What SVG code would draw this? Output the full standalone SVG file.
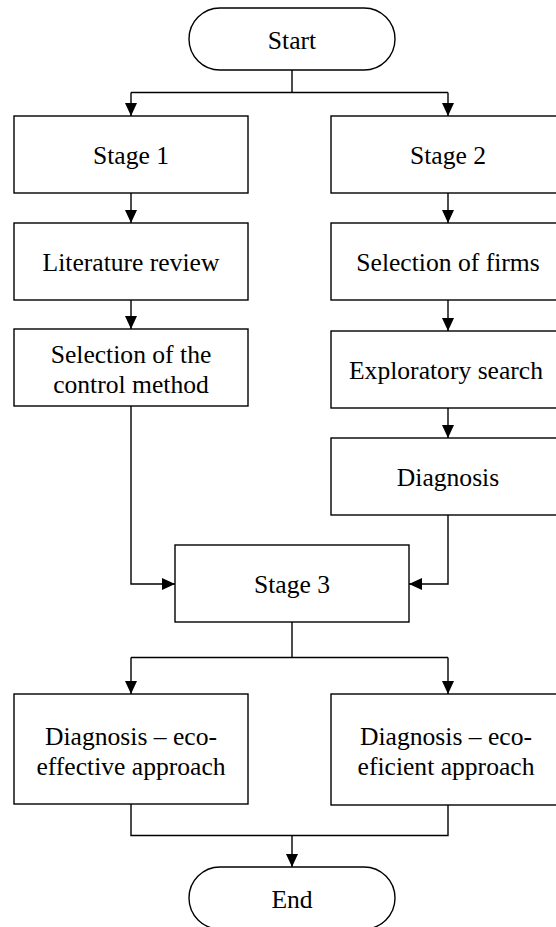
<svg xmlns="http://www.w3.org/2000/svg" width="556" height="927" viewBox="0 0 556 927">
<style>
.box{fill:#fff;stroke:#000;stroke-width:1.4}
.t{font-family:"Liberation Serif","Times New Roman",serif;font-size:25.6px;fill:#000;text-anchor:middle}
.c{fill:none;stroke:#000;stroke-width:1.4}
</style>
<defs>
<marker id="ah" markerUnits="userSpaceOnUse" markerWidth="13" markerHeight="12" refX="13" refY="6" orient="auto">
<path d="M0,0 L13,6 L0,12 z" fill="#000"/>
</marker>
</defs>
<rect width="556" height="927" fill="#fff"/>
<g id="connectors">
<path class="c" d="M292,70 V92.5 M131,92.5 H448"/>
<path class="c" d="M131,92.5 V116" marker-end="url(#ah)"/>
<path class="c" d="M448,92.5 V116" marker-end="url(#ah)"/>
<path class="c" d="M131,193 V223" marker-end="url(#ah)"/>
<path class="c" d="M131,300 V329" marker-end="url(#ah)"/>
<path class="c" d="M448,193 V223" marker-end="url(#ah)"/>
<path class="c" d="M448,300 V331" marker-end="url(#ah)"/>
<path class="c" d="M448,408 V438" marker-end="url(#ah)"/>
<path class="c" d="M131,406 V584 H175" marker-end="url(#ah)"/>
<path class="c" d="M448,515 V584 H409" marker-end="url(#ah)"/>
<path class="c" d="M292,622 V657.5 M131,657.5 H448"/>
<path class="c" d="M131,657.5 V694" marker-end="url(#ah)"/>
<path class="c" d="M448,657.5 V694" marker-end="url(#ah)"/>
<path class="c" d="M131,804 V835.5 H448 V805"/>
<path class="c" d="M292,835.5 V867" marker-end="url(#ah)"/>
</g>
<g id="start">
<rect class="box" x="189" y="8" width="206" height="62" rx="31" ry="31"/>
<text class="t" x="292" y="48.5">Start</text>
</g>
<g id="stage1">
<rect class="box" x="14" y="116" width="234" height="77"/>
<text class="t" x="131" y="164">Stage 1</text>
</g>
<g id="stage2">
<rect class="box" x="331" y="116" width="234" height="77"/>
<text class="t" x="448" y="164">Stage 2</text>
</g>
<g id="literature">
<rect class="box" x="14" y="223" width="234" height="77"/>
<text class="t" x="131" y="271">Literature review</text>
</g>
<g id="firms">
<rect class="box" x="331" y="223" width="234" height="77"/>
<text class="t" x="448" y="271">Selection of firms</text>
</g>
<g id="control">
<rect class="box" x="14" y="329" width="234" height="77"/>
<text class="t" x="131" y="363.3">Selection of the</text>
<text class="t" x="131" y="393.3">control method</text>
</g>
<g id="exploratory">
<rect class="box" x="331" y="331" width="234" height="77"/>
<text class="t" x="446" y="379">Exploratory search</text>
</g>
<g id="diagnosis">
<rect class="box" x="331" y="438" width="234" height="77"/>
<text class="t" x="448" y="486">Diagnosis</text>
</g>
<g id="stage3">
<rect class="box" x="175" y="545" width="234" height="77"/>
<text class="t" x="292" y="593">Stage 3</text>
</g>
<g id="ecoeffective">
<rect class="box" x="14" y="694" width="234" height="110"/>
<text class="t" x="131" y="745">Diagnosis – eco-</text>
<text class="t" x="131" y="775">effective approach</text>
</g>
<g id="ecoeficient">
<rect class="box" x="331" y="694" width="234" height="111"/>
<text class="t" x="446" y="745">Diagnosis – eco-</text>
<text class="t" x="446" y="775">eficient approach</text>
</g>
<g id="end">
<rect class="box" x="189" y="867" width="206" height="62" rx="31" ry="31"/>
<text class="t" x="292" y="907.5">End</text>
</g>
</svg>
